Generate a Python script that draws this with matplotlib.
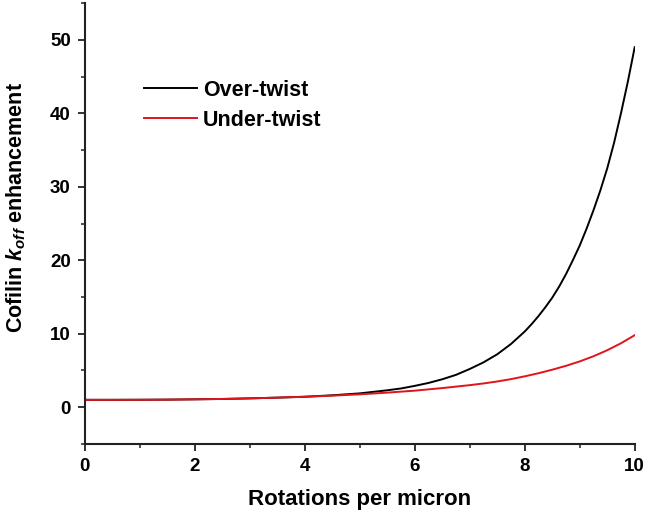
import matplotlib
matplotlib.use("Agg")
import matplotlib.pyplot as plt
from matplotlib.ticker import MultipleLocator

plt.rcParams['font.family'] = ['Liberation Sans', 'DejaVu Sans']
plt.rcParams['font.weight'] = 'bold'
plt.rcParams['mathtext.fontset'] = 'custom'
plt.rcParams['mathtext.it'] = 'Liberation Sans:italic:bold'
plt.rcParams['mathtext.rm'] = 'Liberation Sans:bold'
plt.rcParams['mathtext.bf'] = 'Liberation Sans:bold'

# Data
over_x = [0, 0.5, 1, 1.5, 2, 2.5, 3, 3.5, 4, 4.5, 5, 5.5, 5.75, 6, 6.25, 6.5, 6.75,
          7, 7.25, 7.5, 7.75, 8, 8.125, 8.25, 8.375, 8.5, 8.625, 8.75, 8.875,
          9, 9.125, 9.25, 9.375, 9.5, 9.625, 9.75, 9.875, 10]
over_y = [1.0, 1.0, 1.01, 1.03, 1.07, 1.12, 1.2, 1.3, 1.42, 1.62, 1.88, 2.3, 2.55,
          2.9, 3.3, 3.8, 4.4, 5.2, 6.1, 7.2, 8.6, 10.3, 11.3, 12.4, 13.6, 14.9, 16.4,
          18.1, 20.0, 22.0, 24.3, 26.8, 29.5, 32.5, 36.0, 40.0, 44.3, 49.0]
under_x = [0, 0.5, 1, 1.5, 2, 2.5, 3, 3.5, 4, 4.5, 5, 5.5, 6, 6.5, 7, 7.25, 7.5, 7.75,
           8, 8.25, 8.5, 8.75, 9, 9.25, 9.5, 9.75, 10]
under_y = [1.0, 1.0, 1.01, 1.03, 1.07, 1.12, 1.2, 1.3, 1.42, 1.57, 1.75, 1.98, 2.25,
           2.6, 3.0, 3.23, 3.5, 3.82, 4.2, 4.62, 5.1, 5.63, 6.23, 6.93, 7.75, 8.7, 9.8]
labels = ["Over-twist", "Under-twist"]

fig = plt.figure(figsize=(6.47, 5.18), dpi=100)
ax = fig.add_axes([0.131, 0.143, 0.850, 0.851])

ax.plot(over_x, over_y, color='black', lw=1.4, label=labels[0])
ax.plot(under_x, under_y, color='#e0141a', lw=1.4, label=labels[1])

ax.set_xlim(0, 10)
ax.set_ylim(-5, 55)
ax.xaxis.set_major_locator(MultipleLocator(2))
ax.xaxis.set_minor_locator(MultipleLocator(1))
ax.yaxis.set_major_locator(MultipleLocator(10))
ax.yaxis.set_minor_locator(MultipleLocator(5))

for s in ['top', 'right']:
    ax.spines[s].set_visible(False)
for s in ['left', 'bottom']:
    ax.spines[s].set_linewidth(1.5)
    ax.spines[s].set_color('#222222')

ax.tick_params(which='major', direction='out', length=5, width=1.3, labelsize=13.5,
               color='#222222', pad=5)
ax.tick_params(which='minor', direction='out', length=3, width=1.1, color='#222222')
for lab in ax.get_xticklabels() + ax.get_yticklabels():
    lab.set_fontweight('bold')

ax.set_xlabel("Rotations per micron", fontsize=16, fontweight='bold', labelpad=10)
ax.set_ylabel(r"Cofilin $k_{off}$ enhancement", fontsize=15.5, fontweight='bold')
ax.yaxis.set_label_coords(-0.104, 0.537)

leg = ax.legend(loc='upper left', bbox_to_anchor=(0.107, 0.826), frameon=False,
                fontsize=15.5, handlelength=2.46, handletextpad=0.3, labelspacing=0.42,
                borderaxespad=0, borderpad=0)
for t in leg.get_texts():
    t.set_fontweight('bold')

fig.savefig("out.png", dpi=100)
